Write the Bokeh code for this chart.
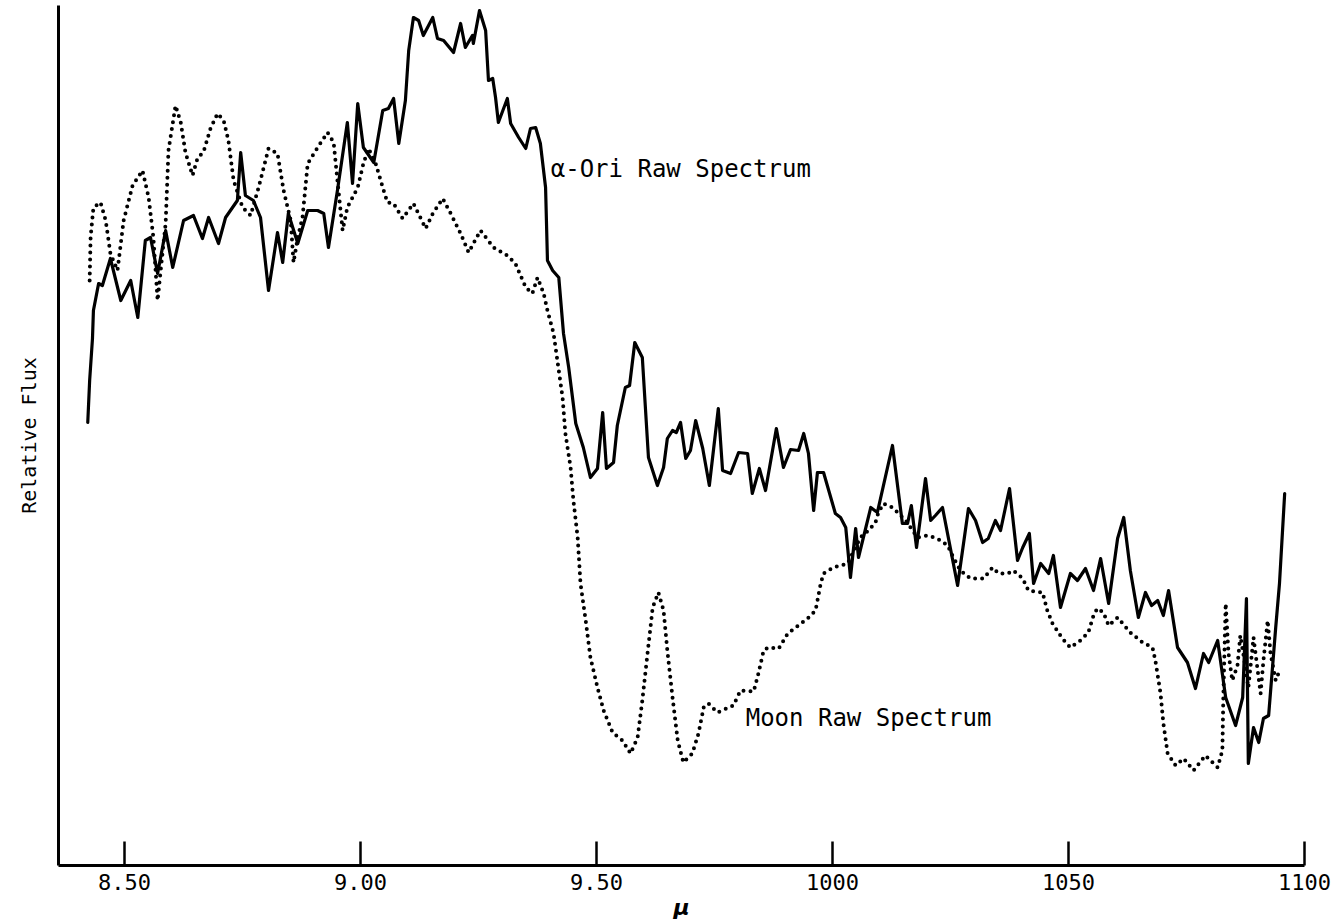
from bokeh.plotting import figure
from bokeh.models import Range1d, FixedTicker, ColumnDataSource
from bokeh.core.properties import value
from bokeh.embed import file_html
from bokeh.resources import INLINE

# ---- data (wavelength in microns, relative flux in arbitrary units) ----
ori_wl = [8.422, 8.426, 8.432, 8.434, 8.445, 8.453, 8.470, 8.492, 8.513, 8.528,
          8.544, 8.555, 8.570, 8.587, 8.602, 8.625, 8.646, 8.665, 8.678, 8.699,
          8.714, 8.739, 8.746, 8.756, 8.773, 8.788, 8.805, 8.824, 8.835, 8.847,
          8.867, 8.888, 8.909, 8.922, 8.932, 8.951, 8.972, 8.983, 8.994, 9.006,
          9.028, 9.047, 9.059, 9.070, 9.081, 9.095, 9.102, 9.112, 9.123, 9.133,
          9.153, 9.163, 9.176, 9.197, 9.212, 9.222, 9.237, 9.239, 9.252, 9.265,
          9.271, 9.280, 9.286, 9.292, 9.311, 9.318, 9.335, 9.350, 9.360, 9.371,
          9.381, 9.392, 9.396, 9.407, 9.420, 9.430, 9.441, 9.456, 9.472, 9.487,
          9.502, 9.513, 9.521, 9.536, 9.544, 9.561, 9.570, 9.581, 9.597, 9.610,
          9.629, 9.642, 9.650, 9.661, 9.669, 9.678, 9.689, 9.699, 9.710, 9.725,
          9.739, 9.758, 9.767, 9.784, 9.801, 9.820, 9.830, 9.845, 9.858, 9.881,
          9.896, 9.911, 9.928, 9.939, 9.949, 9.960, 9.968, 9.981, 10.006, 10.017,
          10.028, 10.038, 10.049, 10.055, 10.081, 10.095, 10.127, 10.148, 10.159, 10.167,
          10.178, 10.197, 10.208, 10.218, 10.233, 10.265, 10.288, 10.303, 10.318, 10.330,
          10.345, 10.356, 10.375, 10.392, 10.403, 10.417, 10.426, 10.441, 10.458, 10.468,
          10.483, 10.504, 10.519, 10.536, 10.553, 10.568, 10.585, 10.604, 10.617, 10.631,
          10.648, 10.663, 10.676, 10.689, 10.701, 10.712, 10.731, 10.752, 10.769, 10.786,
          10.797, 10.816, 10.833, 10.854, 10.869, 10.877, 10.881, 10.892, 10.903, 10.913,
          10.924, 10.939, 10.947, 10.958]
ori_flux = [44.0, 48.2, 52.4, 55.2, 57.9, 57.7, 60.4, 56.2, 58.2, 54.5,
            62.2, 62.5, 58.9, 63.2, 59.5, 64.2, 64.7, 62.4, 64.5, 61.9,
            64.5, 66.2, 71.0, 66.7, 66.2, 64.5, 57.2, 63.0, 60.0, 64.9,
            61.9, 65.2, 65.2, 64.9, 61.5, 67.2, 74.0, 67.9, 75.9, 71.5,
            70.0, 75.2, 75.4, 76.4, 71.9, 76.2, 81.2, 84.5, 84.2, 82.7,
            84.5, 82.4, 82.2, 81.0, 83.9, 81.5, 82.7, 81.9, 85.2, 83.2,
            78.2, 78.4, 76.5, 74.0, 76.4, 73.9, 72.5, 71.4, 73.4, 73.5,
            71.9, 67.5, 60.2, 59.2, 58.5, 52.9, 49.5, 43.9, 41.5, 38.5,
            39.4, 45.0, 39.4, 40.0, 43.7, 47.5, 47.7, 52.0, 50.5, 40.5,
            37.7, 39.5, 42.4, 43.2, 43.0, 44.0, 40.4, 41.2, 44.2, 41.4,
            37.7, 45.4, 39.2, 38.9, 41.0, 40.9, 36.9, 39.4, 37.2, 43.4,
            39.5, 41.3, 41.2, 42.9, 40.9, 35.2, 39.0, 39.0, 34.9, 34.5,
            33.5, 28.5, 33.4, 30.5, 35.5, 35.0, 41.7, 33.9, 33.9, 35.7,
            31.5, 38.4, 34.2, 34.7, 35.5, 27.7, 35.4, 34.2, 32.0, 32.4,
            34.2, 33.2, 37.4, 30.2, 31.5, 32.9, 27.9, 29.9, 28.9, 30.7,
            25.5, 28.9, 28.2, 29.4, 27.2, 30.4, 25.9, 32.4, 34.5, 29.2,
            24.5, 27.0, 25.7, 26.2, 24.7, 27.2, 21.5, 20.0, 17.4, 20.9,
            20.0, 22.2, 16.5, 13.7, 16.5, 26.4, 9.9, 13.5, 12.0, 14.4,
            14.7, 23.5, 27.9, 36.9]

moon_wl = [8.426, 8.428, 8.434, 8.449, 8.460, 8.470, 8.485, 8.498, 8.517, 8.538,
           8.551, 8.561, 8.570, 8.576, 8.587, 8.593, 8.608, 8.619, 8.629, 8.644,
           8.655, 8.667, 8.682, 8.697, 8.710, 8.720, 8.731, 8.750, 8.767, 8.784,
           8.805, 8.824, 8.837, 8.852, 8.858, 8.867, 8.877, 8.888, 8.909, 8.930,
           8.943, 8.951, 8.962, 8.972, 8.994, 9.006, 9.017, 9.032, 9.047, 9.057,
           9.070, 9.089, 9.112, 9.138, 9.153, 9.174, 9.191, 9.212, 9.229, 9.254,
           9.282, 9.311, 9.328, 9.350, 9.364, 9.375, 9.388, 9.396, 9.409, 9.417,
           9.428, 9.434, 9.445, 9.451, 9.460, 9.466, 9.477, 9.487, 9.502, 9.515,
           9.534, 9.555, 9.572, 9.587, 9.597, 9.608, 9.619, 9.631, 9.642, 9.650,
           9.661, 9.672, 9.684, 9.703, 9.716, 9.727, 9.737, 9.756, 9.790, 9.805,
           9.833, 9.843, 9.854, 9.864, 9.886, 9.905, 9.922, 9.947, 9.964, 9.975,
           9.981, 10.002, 10.032, 10.059, 10.076, 10.091, 10.097, 10.108, 10.127, 10.155,
           10.180, 10.201, 10.222, 10.244, 10.256, 10.271, 10.292, 10.320, 10.339, 10.352,
           10.371, 10.383, 10.403, 10.415, 10.445, 10.455, 10.466, 10.487, 10.504, 10.525,
           10.542, 10.553, 10.561, 10.574, 10.585, 10.604, 10.631, 10.657, 10.678, 10.684,
           10.695, 10.701, 10.710, 10.727, 10.744, 10.765, 10.790, 10.816, 10.826, 10.828,
           10.833, 10.839, 10.847, 10.858, 10.864, 10.875, 10.881, 10.892, 10.900, 10.907,
           10.913, 10.922, 10.928, 10.939, 10.949]
moon_flux = [58.2, 62.5, 65.5, 66.0, 64.2, 60.9, 59.2, 64.2, 67.7, 69.2,
             66.5, 62.5, 56.2, 59.0, 63.9, 71.2, 75.7, 74.0, 71.0, 68.7,
             70.5, 71.0, 73.4, 74.9, 74.2, 72.2, 68.2, 65.5, 64.7, 67.5,
             71.4, 70.9, 67.2, 64.2, 60.0, 62.5, 64.5, 69.9, 71.5, 73.0,
             72.0, 68.2, 63.2, 65.5, 67.5, 69.9, 71.4, 69.9, 67.5, 66.0,
             65.9, 64.4, 65.9, 63.4, 64.9, 66.4, 64.9, 62.9, 61.0, 63.2,
             61.5, 60.7, 59.9, 57.5, 56.9, 58.5, 56.9, 55.2, 52.9, 50.2,
             46.5, 42.9, 39.5, 36.2, 32.5, 27.9, 24.2, 20.5, 17.5, 15.2,
             13.0, 12.2, 10.9, 12.5, 16.2, 20.9, 25.5, 27.0, 25.2, 21.2,
             16.5, 12.2, 10.0, 10.9, 12.9, 15.5, 15.9, 15.0, 15.7, 17.2,
             17.1, 18.9, 21.2, 21.5, 21.4, 22.9, 23.5, 24.4, 25.2, 27.9,
             28.9, 29.5, 29.9, 32.5, 33.2, 34.0, 35.0, 35.9, 35.5, 34.2,
             32.5, 32.7, 32.4, 31.7, 30.5, 29.2, 28.4, 28.4, 29.5, 28.9,
             28.9, 29.2, 28.4, 27.2, 27.0, 25.2, 23.9, 22.4, 21.5, 22.2,
             23.0, 24.7, 25.4, 25.0, 23.7, 24.5, 23.0, 22.0, 21.5, 20.2,
             16.9, 13.9, 10.9, 9.7, 10.4, 9.2, 10.7, 9.5, 11.2, 16.5,
             25.9, 20.9, 18.2, 19.7, 22.7, 19.5, 17.5, 22.5, 19.5, 16.9,
             20.2, 24.2, 20.9, 18.2, 19.4]

tick_values = [8.5, 9.0, 9.5, 10.0, 10.5, 11.0]
tick_labels = ["8.50", "9.00", "9.50", "1000", "1050", "1100"]

series_names = ["\u03b1-Ori Raw Spectrum", "Moon Raw Spectrum"]
name_wl = [9.403, 9.816]
name_flux = [69.4, 14.5]

y_title = "Relative Flux"
x_title = "\u03bc"

FONT = "DejaVu Sans Mono"

p = figure(width=1342, height=923, output_backend="svg", toolbar_location=None,
           x_range=Range1d(8.36, 11.0), y_range=Range1d(-0.3, 85.7),
           min_border_left=58, min_border_right=38, min_border_top=5,
           min_border_bottom=58)
p.outline_line_color = None
p.xgrid.visible = False
p.ygrid.visible = False
p.background_fill_color = "white"
p.border_fill_color = "white"

# x axis
p.xaxis.ticker = FixedTicker(ticks=tick_values)
p.xaxis.major_label_overrides = {v: l for v, l in zip(tick_values, tick_labels)}
p.xaxis.axis_line_width = 3
p.xaxis.axis_line_color = "black"
p.xaxis.major_tick_in = 24
p.xaxis.major_tick_out = 0
p.xaxis.major_tick_line_width = 2.5
p.xaxis.minor_tick_line_color = None
p.xaxis.major_label_text_font = FONT
p.xaxis.major_label_text_font_size = "22px"
p.xaxis.major_label_text_color = "black"
p.xaxis.major_label_standoff = 8
p.xaxis.axis_label = x_title
p.xaxis.axis_label_text_font = "DejaVu Sans"
p.xaxis.axis_label_text_font_style = "bold italic"
p.xaxis.axis_label_text_font_size = "22px"
p.xaxis.axis_label_text_color = "black"
p.xaxis.axis_label_standoff = 2

# y axis (no ticks)
p.yaxis.ticker = FixedTicker(ticks=[])
p.yaxis.axis_line_width = 3
p.yaxis.axis_line_color = "black"
p.yaxis.major_tick_line_color = None
p.yaxis.minor_tick_line_color = None
p.yaxis.axis_label = y_title
p.yaxis.axis_label_text_font = FONT
p.yaxis.axis_label_text_font_style = "normal"
p.yaxis.axis_label_text_font_size = "20px"
p.yaxis.axis_label_text_color = "black"
p.yaxis.axis_label_standoff = 18

# spectra
p.line(ori_wl, ori_flux, line_color="black", line_width=3.2, line_join="round",
       line_cap="round")
p.line(moon_wl, moon_flux, line_color="black", line_width=4, line_dash="0 7",
       line_cap="round", line_join="round")

# series names
src = ColumnDataSource(dict(x=name_wl, y=name_flux, t=series_names))
p.text(x="x", y="y", text="t", source=src, text_font=value(FONT),
       text_font_size="24px", text_align="left", text_baseline="middle",
       text_color="black")

open("out.html", "w").write(file_html(p, INLINE))
